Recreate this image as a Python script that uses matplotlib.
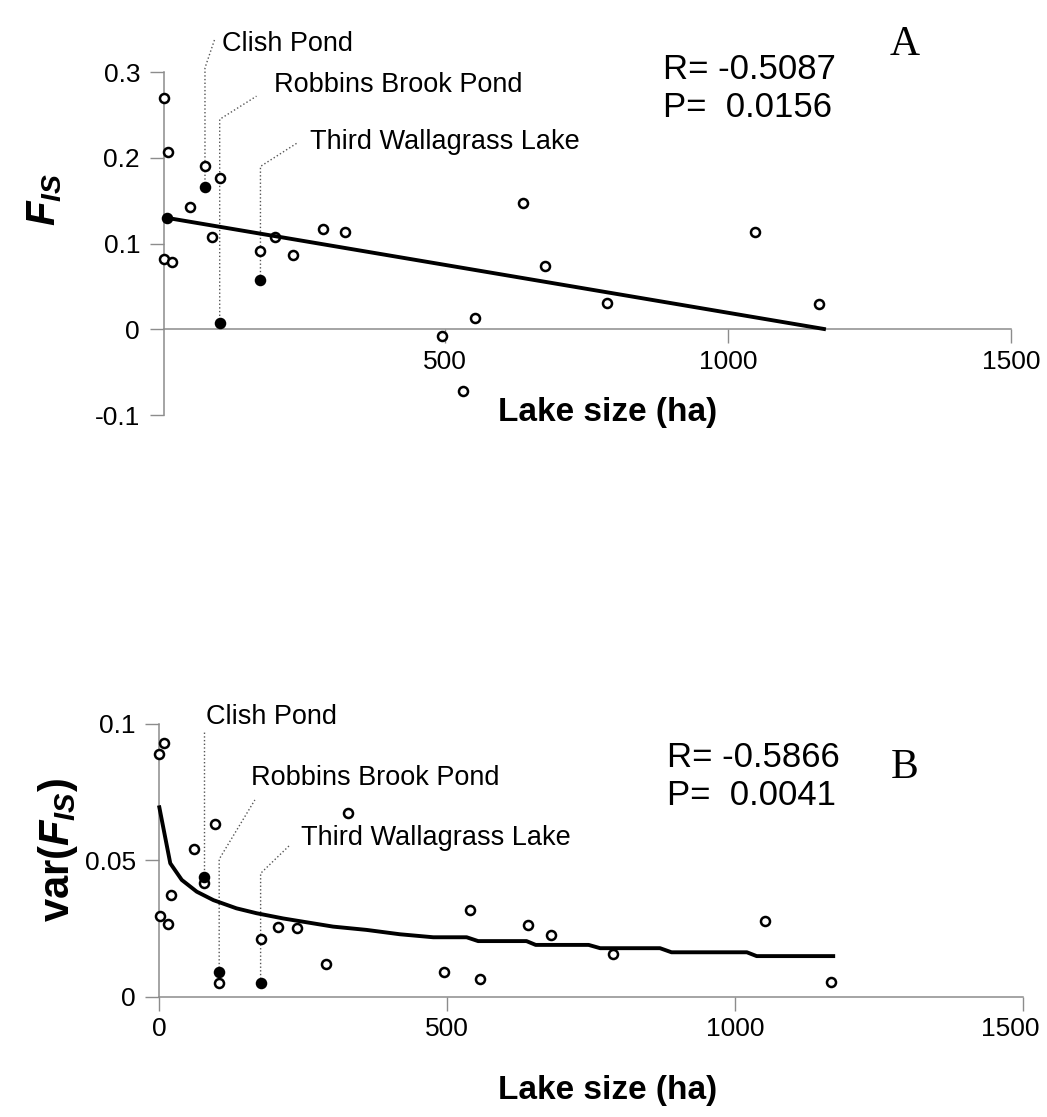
import numpy as np
import matplotlib.pyplot as plt
from matplotlib.transforms import ScaledTranslation

plt.rcParams['font.family'] = ['Liberation Sans', 'DejaVu Sans']
plt.rcParams['mathtext.fontset'] = 'custom'
plt.rcParams['mathtext.rm'] = 'Liberation Sans:bold'
plt.rcParams['mathtext.bf'] = 'Liberation Sans:bold'
plt.rcParams['mathtext.it'] = 'Liberation Sans:bold:italic'

# panel A: F_IS against lake size
fis_open_x = [4, 10, 76, 102, 50, 88, 4, 18, 174, 200, 232, 284, 324,
              494, 532, 553, 637, 677, 787, 1048, 1160]
fis_open_y = [0.270, 0.207, 0.190, 0.177, 0.143, 0.108, 0.082, 0.078, 0.091,
              0.108, 0.087, 0.117, 0.113, -0.008, -0.072, 0.013, 0.147,
              0.074, 0.031, 0.113, 0.030]
fis_filled_x = [9, 76, 102, 174]
fis_filled_y = [0.130, 0.166, 0.007, 0.058]
fis_fit_x = [9, 1173]
fis_fit_y = [0.130, 0.0]

# panel B: var(F_IS) against lake size
var_open_x = [0, 8, 1, 15, 20, 60, 97, 78, 104, 176, 206, 239, 327, 290,
              539, 495, 558, 641, 681, 788, 1052, 1167]
var_open_y = [0.0888, 0.0927, 0.0296, 0.0267, 0.0371, 0.0539, 0.0631, 0.0415,
              0.0051, 0.0211, 0.0253, 0.0252, 0.0673, 0.0118, 0.0317, 0.0090,
              0.0064, 0.0263, 0.0225, 0.0157, 0.0278, 0.0052]
var_filled_x = [78, 104, 176]
var_filled_y = [0.0438, 0.0091, 0.0051]
var_fit_x = [0, 19, 39, 65, 94, 134, 169, 215, 302, 360, 418, 476, 534, 554,
             638, 654, 746, 766, 870, 890, 1021, 1038, 1171]
var_fit_y = [0.0693, 0.0488, 0.0427, 0.0384, 0.0353, 0.0323, 0.0305, 0.0286,
             0.0256, 0.0244, 0.0228, 0.0217, 0.0217, 0.0203, 0.0203, 0.0189,
             0.0189, 0.0177, 0.0177, 0.0162, 0.0162, 0.0148, 0.0148]

lake_names = ['Clish Pond', 'Robbins Brook Pond', 'Third Wallagrass Lake']

W, H = 1047, 1117
fig = plt.figure(figsize=(W / 100, H / 100), dpi=100)


def px_rect(left, top, right, bottom):
    return [left / W, 1 - bottom / H, (right - left) / W, (bottom - top) / H]


grey = '#8c8c8c'


def style_axes(ax, yx, ybounds, xbounds):
    for s in ['top', 'right']:
        ax.spines[s].set_visible(False)
    ax.spines['left'].set_position(('data', yx))
    ax.spines['left'].set_bounds(*ybounds)
    ax.spines['bottom'].set_position(('data', 0))
    ax.spines['bottom'].set_bounds(*xbounds)
    for s in ['left', 'bottom']:
        ax.spines[s].set_color(grey)
        ax.spines[s].set_linewidth(1.1)
    ax.tick_params(direction='out', length=10, width=1.0, color=grey,
                   labelsize=19, labelcolor='black')
    ax.tick_params(axis='y', pad=7)
    ax.tick_params(axis='x', pad=5)


def draw_points(ax, ox, oy, fx, fy):
    ax.plot(ox, oy, 'o', ms=6.5, mfc='white', mec='black', mew=1.8,
            zorder=3, clip_on=False)
    ax.plot(fx, fy, 'o', ms=6.5, mfc='black', mec='black', mew=1.8,
            zorder=3, clip_on=False)


def leader(ax, pts, name, tx, ty):
    xs = [p[0] for p in pts]
    ys = [p[1] for p in pts]
    ax.plot(xs, ys, ls=':', color='#555555', lw=1.0, zorder=1, clip_on=False)
    ax.text(tx, ty, name, fontsize=19.5, ha='left', va='center')


# ---- panel A ----
ax1 = fig.add_axes(px_rect(156.3, 63.6, 1022.3, 423.6))
ax1.set_xlim(-10, 1520)
ax1.set_ylim(-0.11, 0.31)
style_axes(ax1, 3, (-0.1, 0.3), (3, 1500))
ax1.set_xticks([500, 1000, 1500])
ax1.set_xticklabels(['500', '1000', '1500'])
ax1.set_yticks([-0.1, 0, 0.1, 0.2, 0.3])
ax1.set_yticklabels(['-0.1', '0', '0.1', '0.2', '0.3'])
draw_points(ax1, fis_open_x, fis_open_y, fis_filled_x, fis_filled_y)
ax1.plot(fis_fit_x, fis_fit_y, color='black', lw=2.8, zorder=4,
         solid_capstyle='butt')

leader(ax1, [(76, 0.166), (76, 0.305), (94, 0.340)], lake_names[0], 106, 0.333)
leader(ax1, [(102, 0.007), (102, 0.245), (167, 0.272)], lake_names[1], 198, 0.285)
leader(ax1, [(174, 0.058), (174, 0.190), (238, 0.217)], lake_names[2], 261, 0.219)

ax1.text(885, 0.303, 'R= -0.5087', fontsize=25, ha='left', va='center')
ax1.text(885, 0.259, 'P=  0.0156', fontsize=25, ha='left', va='center')

ax1.set_xlabel('Lake size (ha)', fontsize=24, fontweight='bold', va='center')
ax1.xaxis.set_label_coords(608 / W, 1 - 412 / H, transform=fig.transFigure)
ax1.set_ylabel(r'$F_{IS}$', fontsize=29, va='center')
ax1.yaxis.set_label_coords(45 / W, 1 - 200 / H, transform=fig.transFigure)
fig.text(905 / W, 1 - 45 / H, 'A', fontsize=30, family='Liberation Serif',
         ha='center', va='center')

# ---- panel B ----
ax2 = fig.add_axes(px_rect(150.7, 709.85, 1039.8, 1004.7))
ax2.set_xlim(-15, 1530)
ax2.set_ylim(-0.003, 0.105)
style_axes(ax2, 0, (0, 0.1), (0, 1500))
ax2.set_xticks([0, 500, 1000, 1500])
ax2.set_xticklabels(['0', '500', '1000', '1500'])
ax2.set_yticks([0, 0.05, 0.1])
ax2.set_yticklabels(['0', '0.05', '0.1'])
last = ax2.get_xticklabels()[-1]
last.set_transform(last.get_transform() +
                   ScaledTranslation(-0.12, 0, fig.dpi_scale_trans))
draw_points(ax2, var_open_x, var_open_y, var_filled_x, var_filled_y)
ax2.plot(var_fit_x, var_fit_y, color='black', lw=2.8, zorder=4)

leader(ax2, [(78, 0.0438), (78, 0.0969)], lake_names[0], 81, 0.1024)
leader(ax2, [(104, 0.0051), (104, 0.0503), (166, 0.0720)], lake_names[1], 159, 0.0799)
leader(ax2, [(176, 0.0051), (176, 0.0451), (227, 0.0555)], lake_names[2], 247, 0.0579)

ax2.text(882, 0.0877, 'R= -0.5866', fontsize=25, ha='left', va='center')
ax2.text(882, 0.0738, 'P=  0.0041', fontsize=25, ha='left', va='center')

ax2.set_xlabel('Lake size (ha)', fontsize=24, fontweight='bold', va='center')
ax2.xaxis.set_label_coords(608 / W, 1 - 1090 / H, transform=fig.transFigure)
ax2.set_ylabel(r'$\mathrm{var(}F_{IS}\mathrm{)}$', fontsize=30, va='center')
ax2.yaxis.set_label_coords(58 / W, 1 - 850 / H, transform=fig.transFigure)
fig.text(905 / W, 1 - 768 / H, 'B', fontsize=30, family='Liberation Serif',
         ha='center', va='center')

fig.savefig('out.png', dpi=100)
